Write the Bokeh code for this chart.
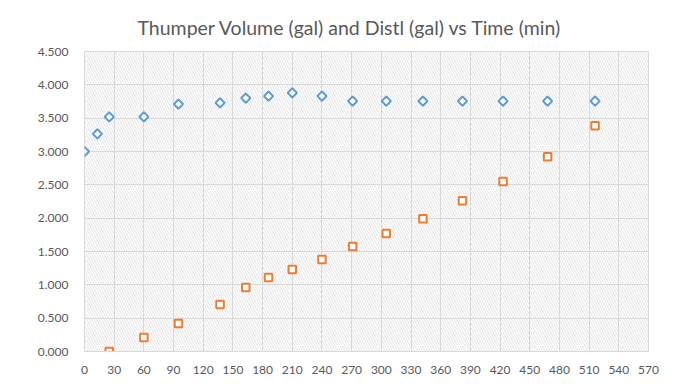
import math
from bokeh.plotting import figure
from bokeh.models import (ColumnDataSource, FixedTicker, NumeralTickFormatter,
                          BoxAnnotation)
from bokeh.embed import file_html
from bokeh.resources import INLINE

# ---- data ----
time_thumper = [0, 13, 25, 60, 95, 137, 163, 186, 210, 240, 271, 305, 342, 382, 423, 468, 516]
thumper_volume = [3.00, 3.265, 3.52, 3.52, 3.71, 3.73, 3.80, 3.83, 3.88, 3.83,
                  3.755, 3.755, 3.755, 3.755, 3.755, 3.755, 3.755]
time_distl = [25, 60, 95, 137, 163, 186, 210, 240, 271, 305, 342, 382, 423, 468, 516]
distl_volume = [0.0, 0.21, 0.42, 0.705, 0.96, 1.11, 1.23, 1.38, 1.575, 1.77,
                1.99, 2.26, 2.55, 2.92, 3.385]
x_ticks = list(range(0, 571, 30))
y_ticks = [0.0, 0.5, 1.0, 1.5, 2.0, 2.5, 3.0, 3.5, 4.0, 4.5]
title_text = "Thumper Volume (gal) and Distl (gal) vs Time (min)"

FONT = "Lato"
GRID = "#d9d9d9"
TEXT = "#595959"

p = figure(width=674, height=376, x_range=(0, 570), y_range=(0, 4.5),
           output_backend="svg", toolbar_location=None,
           min_border_left=84, min_border_right=26,
           min_border_top=51, min_border_bottom=24,
           title=title_text)
p.background_fill_color = "white"
p.border_fill_color = "white"
p.outline_line_color = GRID

p.title.align = "left"
p.title.text_font = FONT
p.title.text_font_size = "19.5px"
p.title.text_font_style = "normal"
p.title.text_color = TEXT
p.title.offset = 53
p.title.standoff = 26

# hatched plot area
hatch = BoxAnnotation(level="image", fill_alpha=0, line_alpha=0,
                      hatch_pattern="\\", hatch_color="#dcdcdc",
                      hatch_scale=5, hatch_weight=0.8)
p.add_layout(hatch)

# axes / grid
p.xaxis.ticker = FixedTicker(ticks=x_ticks)
p.yaxis.ticker = FixedTicker(ticks=y_ticks)
p.xgrid.ticker = FixedTicker(ticks=x_ticks)
p.ygrid.ticker = FixedTicker(ticks=y_ticks)
p.xgrid.grid_line_color = GRID
p.ygrid.grid_line_color = GRID
p.yaxis.formatter = NumeralTickFormatter(format="0.000")
for ax in (p.xaxis[0], p.yaxis[0]):
    ax.major_tick_line_color = None
    ax.minor_tick_line_color = None
    ax.major_label_text_font = FONT
    ax.major_label_text_font_size = "12px"
    ax.major_label_text_color = TEXT
p.xaxis.axis_line_color = GRID
p.yaxis.axis_line_color = None
p.xaxis.major_label_standoff = 8
p.yaxis.major_label_standoff = 10

src1 = ColumnDataSource(dict(x=time_thumper, y=thumper_volume))
src2 = ColumnDataSource(dict(x=time_distl, y=distl_volume))

p.scatter("x", "y", source=src1, marker="square", angle=math.pi / 4,
          size=6.5, fill_color="white", line_color="#5b9bd5", line_width=2)
p.scatter("x", "y", source=src2, marker="square",
          size=7.5, fill_color="white", line_color="#ed7d31", line_width=2)

open("out.html", "w").write(file_html(p, INLINE))
